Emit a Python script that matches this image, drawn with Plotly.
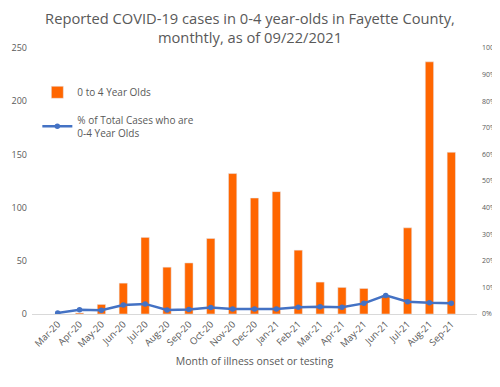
import plotly.graph_objects as go

months = ["Mar-20", "Apr-20", "May-20", "Jun-20", "Jul-20", "Aug-20", "Sep-20", "Oct-20",
          "Nov-20", "Dec-20", "Jan-21", "Feb-21", "Mar-21", "Apr-21", "May-21", "Jun-21",
          "Jul-21", "Aug-21", "Sep-21"]
cases_0_4 = [0, 1, 9, 29, 72, 44, 48, 71, 132, 109, 115, 60, 30, 25, 24, 17, 81, 237, 152]
pct_total = [0.4, 1.6, 1.4, 3.4, 3.8, 1.5, 1.7, 2.4, 1.9, 1.9, 1.9, 2.5, 2.7, 2.5, 4.0, 7.0, 4.6, 4.2, 4.0]

left_ticks = [0, 50, 100, 150, 200, 250]
right_ticks = list(range(0, 101, 10))

font_family = "Open Sans, Liberation Sans, sans-serif"
grey = "#595959"

fig = go.Figure()
fig.add_trace(go.Bar(
    x=months, y=cases_0_4, name="0 to 4 Year Olds", legendgroup="a",
    marker=dict(color="#FF6600"), yaxis="y"))
fig.add_trace(go.Scatter(
    x=months, y=pct_total, name="% of Total Cases who are<br>0-4 Year Olds", legendgroup="b",
    mode="lines+markers", line=dict(color="#4472C4", width=2.5),
    marker=dict(color="#4472C4", size=5.5), yaxis="y2"))

fig.update_layout(
    width=500, height=387,
    margin=dict(l=24, r=31, t=40, b=81, autoexpand=False),
    paper_bgcolor="white", plot_bgcolor="white",
    font=dict(family=font_family, color=grey),
    title=dict(text="Reported COVID-19 cases in 0-4 year-olds in Fayette County,<br>monthtly, as of 09/22/2021",
               x=0.484, xanchor="center", y=0.958, yanchor="top",
               font=dict(size=14.7, color=grey, family=font_family)),
    bargap=0.62,
    showlegend=True,
    legend=dict(x=0.012, y=0.888, xanchor="left", yanchor="top",
                bgcolor="rgba(0,0,0,0)", font=dict(size=10, color=grey),
                tracegroupgap=10, itemwidth=30),
    xaxis=dict(type="category", tickangle=-45, tickfont=dict(size=9.5, color=grey),
               showgrid=False, showline=True, linecolor="#D9D9D9", linewidth=1,
               ticks="", title=dict(text="Month of illness onset or testing",
                                    font=dict(size=10.5, color=grey), standoff=8)),
    yaxis=dict(range=[0, 250], tickvals=left_ticks, showgrid=False, zeroline=False,
               tickfont=dict(size=9, color=grey), ticks="", ticklabelstandoff=4),
    yaxis2=dict(range=[0, 100], tickvals=right_ticks, ticktext=[f"{v}%" for v in right_ticks],
                overlaying="y", side="right", showgrid=False, zeroline=False,
                tickfont=dict(size=7, color=grey), ticks="", ticklabelstandoff=4),
)

fig.add_shape(type="line", xref="paper", yref="paper", x0=-0.1, x1=1.1, y0=-0.278, y1=-0.278,
              line=dict(color="#BFBFBF", width=1.5))

fig.write_html("out.html")
